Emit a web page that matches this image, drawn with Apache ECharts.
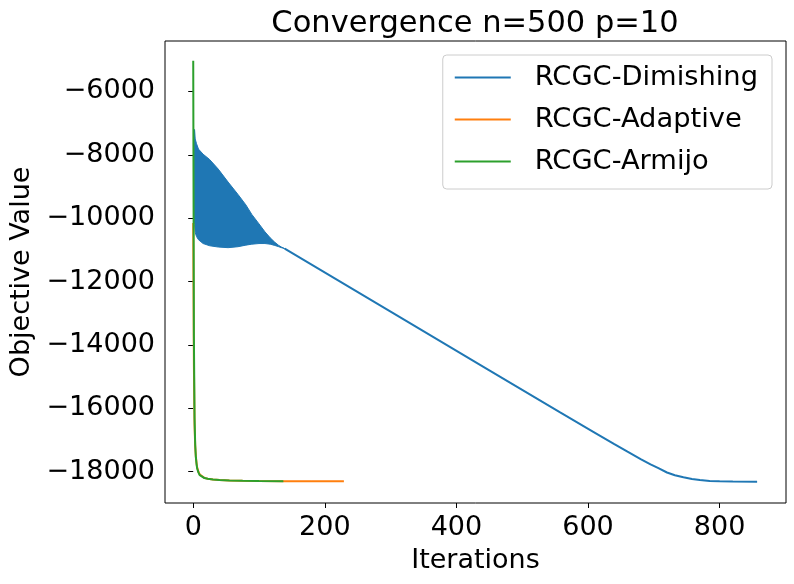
<!DOCTYPE html>
<html>
<head>
<meta charset="utf-8">
<script src="https://cdn.jsdelivr.net/npm/echarts@6/dist/echarts.min.js"></script>
<style>
    html, body { margin: 0; background: #fff; }
    #main { width: 794px; height: 584px; }
</style>
</head>
<body>
<div id="main"></div>
<script>
// tick labels
var xTicks = [0, 200, 400, 600, 800];
var yTicks = [-18000, -16000, -14000, -12000, -10000, -8000, -6000];

// RCGC-Dimishing, first part: fast oscillation, kept as upper / lower envelope
var bandIter  = [2, 3, 5, 8, 15, 25, 38, 53, 68, 80, 89, 100, 109, 117, 124, 130, 134, 139];
var bandUpper = [-7200, -7500, -7650, -7820, -7980, -8150, -8450, -8860, -9250, -9580, -9880, -10180, -10430, -10620, -10760, -10860, -10910, -10960];
var bandLower = [-10200, -10450, -10580, -10680, -10800, -10870, -10910, -10930, -10900, -10850, -10820, -10800, -10800, -10820, -10860, -10900, -10930, -10960];

// RCGC-Dimishing, after the oscillation has died out
var dimIter  = [139, 300, 450, 557, 608, 640, 660, 680, 695, 707, 720, 732, 745, 758, 770, 785, 800, 820, 857];
var dimValue = [-10960, -12950, -14800, -16120, -16740, -17130, -17370, -17600, -17770, -17890, -18025, -18110, -18175, -18228, -18265, -18290, -18305, -18313, -18315];

// RCGC-Adaptive
var adaIter  = [0, 1, 2, 3, 4, 5, 6, 8, 10, 13, 17, 22, 30, 40, 55, 75, 100, 140, 180, 229];
var adaValue = [-10150, -14600, -16500, -17200, -17520, -17720, -17870, -18010, -18090, -18150, -18195, -18225, -18248, -18263, -18277, -18289, -18296, -18302, -18304, -18305];

// RCGC-Armijo
var armIter  = [0, 1, 2, 3, 4, 5, 6, 8, 10, 13, 17, 22, 30, 40, 55, 75, 100, 137];
var armValue = [-5030, -13700, -16300, -17150, -17550, -17750, -17900, -18030, -18110, -18160, -18200, -18225, -18245, -18260, -18275, -18288, -18297, -18303];

function pairs(xs, ys) {
    var out = [];
    for (var i = 0; i < xs.length; i++) out.push([xs[i], ys[i]]);
    return out;
}

var bandRows = [];
for (var i = 0; i < bandIter.length; i++) bandRows.push([bandIter[i], bandUpper[i], bandLower[i]]);

var FONT = 'DejaVu Sans';
var blue = '#1f77b4', orange = '#ff7f0e', green = '#2ca02c';

var myChart = echarts.init(document.getElementById('main'), null, { renderer: 'canvas' });

var option = {
    animation: false,
    backgroundColor: '#fff',
    textStyle: { fontFamily: FONT },
    title: {
        text: 'Convergence n=500 p=10',
        left: 475,
        textAlign: 'center',
        top: 9,
        padding: 0,
        textStyle: { fontFamily: FONT, fontSize: 30.5, fontWeight: 'normal', color: '#000' }
    },
    grid: {
        left: 165, right: 8, top: 41, bottom: 81,
        show: true, borderColor: '#000', borderWidth: 1,
        outerBoundsMode: 'none'
    },
    legend: {
        data: ['RCGC-Dimishing', 'RCGC-Adaptive', 'RCGC-Armijo'],
        orient: 'vertical',
        right: 22, top: 55,
        padding: [9, 14, 14, 12],
        icon: 'rect',
        itemWidth: 56, itemHeight: 2, itemGap: 15,
        backgroundColor: 'rgba(255,255,255,0.8)',
        borderColor: '#cccccc', borderWidth: 1, borderRadius: 4,
        textStyle: { fontFamily: FONT, fontSize: 27.3, color: '#000', padding: [0, 0, 0, 19] }
    },
    xAxis: {
        type: 'value',
        min: -42.9, max: 900.9,
        name: 'Iterations',
        nameLocation: 'middle',
        nameGap: 44,
        nameTextStyle: { fontFamily: FONT, fontSize: 27, color: '#000' },
        splitLine: { show: false },
        axisLine: { show: false },
        axisTick: { show: true, length: 5, customValues: xTicks, lineStyle: { color: '#000', width: 1 } },
        axisLabel: { customValues: xTicks, margin: 11, fontFamily: FONT, fontSize: 27, color: '#000' }
    },
    yAxis: {
        type: 'value',
        min: -18988, max: -4408,
        name: 'Objective Value',
        nameLocation: 'middle',
        nameGap: 128,
        nameTextStyle: { fontFamily: FONT, fontSize: 27, color: '#000' },
        splitLine: { show: false },
        axisLine: { show: false },
        axisTick: { show: true, length: 5, customValues: yTicks, lineStyle: { color: '#000', width: 1 } },
        axisLabel: {
            customValues: yTicks, margin: 10, fontFamily: FONT, fontSize: 27, color: '#000',
            formatter: function (v) { return String(v).replace('-', '\u2212'); }
        }
    },
    series: [
        {
            name: 'band',
            type: 'custom',
            data: bandRows,
            encode: { x: 0, y: [1, 2] },
            renderItem: function (params, api) {
                if (params.dataIndex !== 0) return null;
                var pts = [];
                for (var k = 0; k < bandRows.length; k++) pts.push(api.coord([bandRows[k][0], bandRows[k][1]]));
                for (var k = bandRows.length - 1; k >= 0; k--) pts.push(api.coord([bandRows[k][0], bandRows[k][2]]));
                return {
                    type: 'polygon',
                    shape: { points: pts },
                    style: { fill: blue, stroke: blue, lineWidth: 1 }
                };
            },
            z: 2
        },
        {
            name: 'RCGC-Dimishing',
            type: 'line',
            data: pairs(dimIter, dimValue),
            symbol: 'none',
            lineStyle: { color: blue, width: 2 },
            itemStyle: { color: blue },
            z: 2
        },
        {
            name: 'RCGC-Adaptive',
            type: 'line',
            data: pairs(adaIter, adaValue),
            symbol: 'none',
            lineStyle: { color: orange, width: 2 },
            itemStyle: { color: orange },
            z: 3
        },
        {
            name: 'RCGC-Armijo',
            type: 'line',
            data: pairs(armIter, armValue),
            symbol: 'none',
            lineStyle: { color: green, width: 2 },
            itemStyle: { color: green },
            z: 4
        }
    ]
};

myChart.setOption(option);
</script>
</body>
</html>
